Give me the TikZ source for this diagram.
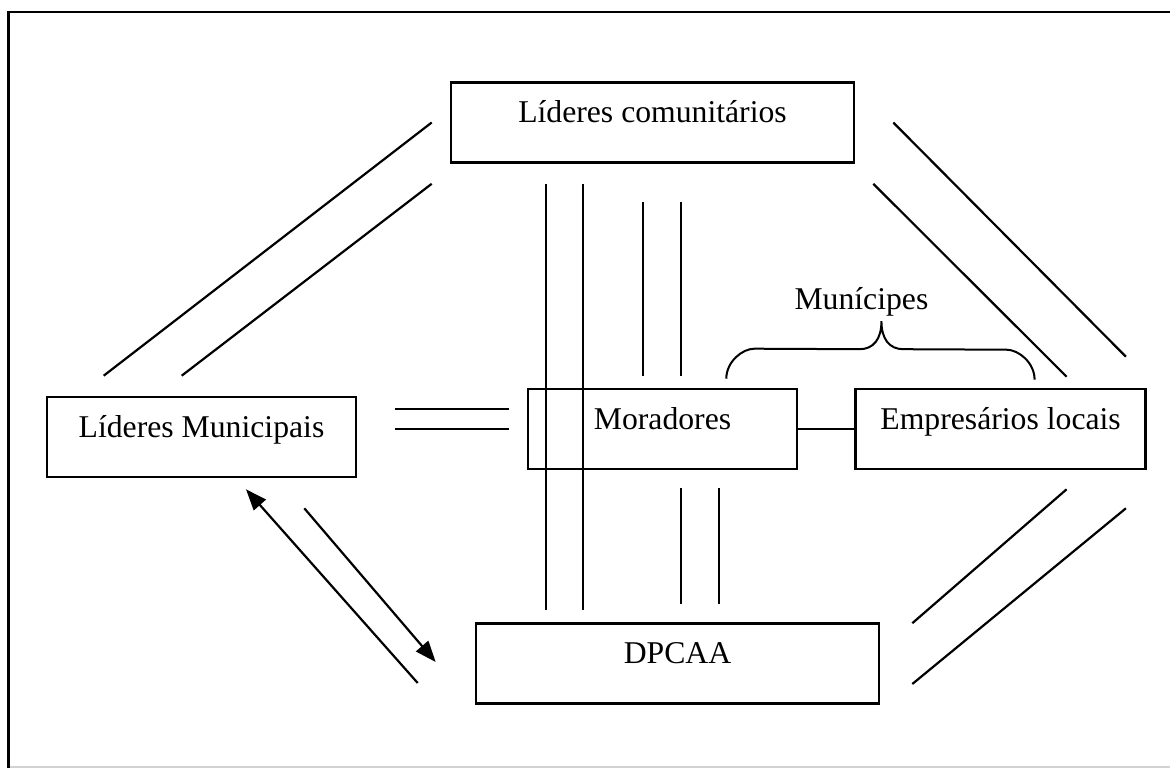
\documentclass[tikz,border=0pt]{standalone}
\usepackage{fontspec}
\setmainfont{Liberation Serif}
\usetikzlibrary{arrows.meta}
\usetikzlibrary{calc}
\usetikzlibrary{positioning}

\begin{document}
\begin{tikzpicture}[x=1pt, y=-1pt, line width=2.2pt,
    >={Triangle[length=21pt, width=16pt]},
    actor/.style={draw, line width=2.6pt, inner xsep=0pt, inner ysep=0pt,
        text height=40pt, text depth=40pt, font=\fontsize{31.7}{38}\selectfont},
    lbl/.style={inner sep=0pt, font=\fontsize{31.7}{38}\selectfont}]

    \useasboundingbox (0,0) rectangle (1170,768);

    % Frame
    \draw[line width=2.8pt] (8.7,768) -- (8.7,12) -- (1170,12);
    \draw[line width=1.2pt, black!18] (10,767) -- (1170,767);

    % Nodes

    \node[actor, minimum width=403pt] (lc)  at (652.5,122.5) {Líderes comunitários}; %
    \node[actor, minimum width=309pt] (lm)  at (201.5,437)   {Líderes Municipais}; %
    \node[actor, minimum width=269pt] (mor) at (662.5,429)   {Moradores}; %
    \node[actor, minimum width=290pt, right=56pt of mor] (emp) {Empresários locais}; %
    \node[actor, minimum width=403pt] (dp)  at (677.5,663.5) {DPCAA}; %

    % Lideres comunitarios
    \draw ($(lm.north west)+(58,-20)$)  -- ($(lc.west)+(-18,0)$);
    \draw ($(lm.north west)+(136,-20)$) -- ($(lc.south west)+(-18,20)$);
    \draw ($(lc.east)+(38,0)$)          -- ($(emp.north east)+(-21,-31)$);
    \draw ($(lc.south east)+(18,20)$)   -- ($(emp.north)+(66,-11)$);
    \draw ($(lc.south west)+(96,20)$)   -- ($(dp.north west)+(71,-12)$);
    \draw ($(lc.south west)+(133,20)$)  -- ($(dp.north west)+(108,-12)$);
    \draw ($(lc.south)+(-9.5,38)$)      -- ($(mor.north)+(-19.5,-12)$);
    \draw ($(lc.south)+(28.5,38)$)      -- ($(mor.north)+(18.5,-12)$);

    % Moradores
    \draw ($(lm.east)+(38,-28)$) -- ($(mor.west)+(-18,-20)$);
    \draw ($(lm.east)+(38,-8)$)  -- ($(mor.west)+(-18,0)$);
    \draw (mor) -- (emp);
    \draw ($(mor.south)+(18.5,18)$) -- ($(dp.north)+(3.5,-18)$);
    \draw ($(mor.south)+(56.5,18)$) -- ($(dp.north)+(41.5,-18)$);

    % DPCAA
    \draw[<-] ($(lm.south)+(44.5,11)$)       -- ($(dp.west)+(-57,19.5)$);
    \draw[->] ($(lm.south east)+(-53,30)$)   -- ($(dp.west)+(-39,-1.5)$);
    \draw ($(dp.north east)+(32,1)$)    -- ($(emp.south)+(66,19)$);
    \draw ($(dp.east)+(32,20.5)$)       -- ($(emp.south east)+(-21,38)$);

    % Municipes
    \coordinate (brl) at ($(mor.north east)+(-72,-9)$);
    \coordinate (brr) at ($(emp.north)+(34,-8)$);
    \coordinate (brt) at ($(brl)!0.5!(brr)+(1,-58)$);
    \draw[line width=2pt] (brl) .. controls +(0,-17) and +(-12,0) .. ++(28,-30)
        -- ($(brt)+(-22,28)$) .. controls +(14,0) and +(0,18) .. (brt)
        .. controls +(0,18) and +(-14,0) .. ($(brt)+(22,28)$)
        -- ($(brr)+(-28,-30)$) .. controls +(12,0) and +(0,-17) .. (brr);
    \node[lbl, anchor=base] (mun) at ($(brt)+(-20,-12)$) {Munícipes}; %

\end{tikzpicture}
\end{document}
